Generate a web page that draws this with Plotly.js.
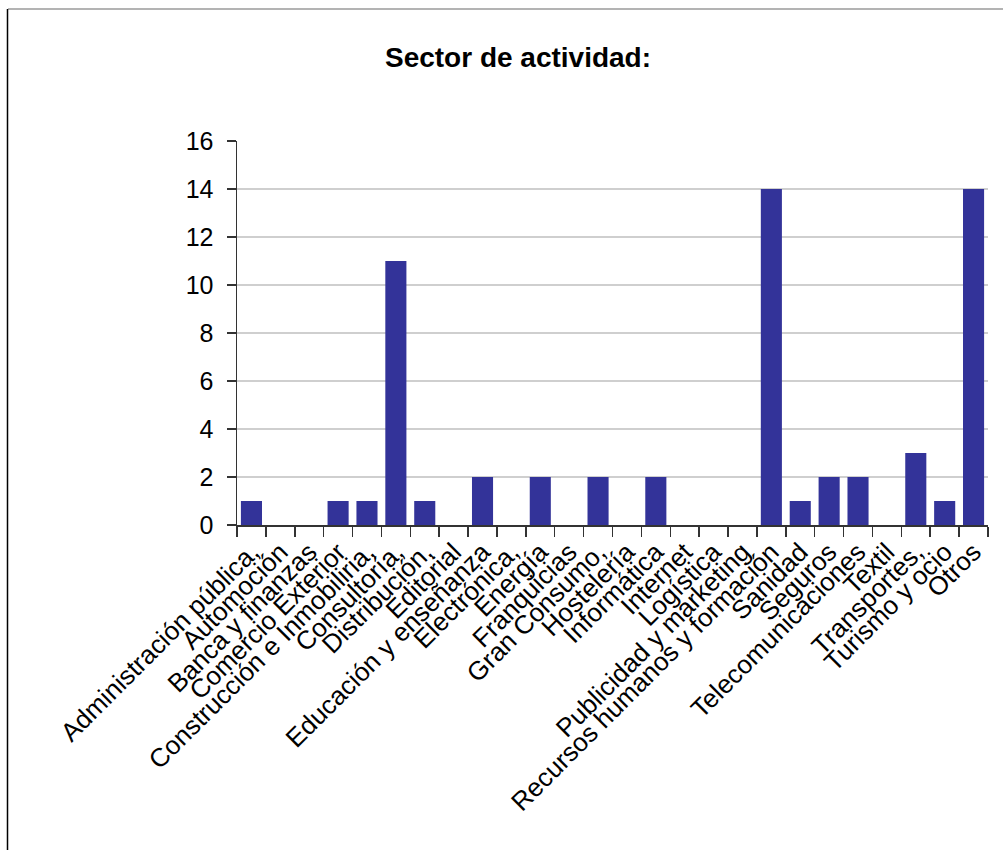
<!DOCTYPE html>
<html>
<head>
<meta charset="utf-8">
<script src="https://cdn.plot.ly/plotly-3.0.1.min.js"></script>
<style>
html,body{margin:0;padding:0;background:#fff;}
#chart{width:1003px;height:850px;}
</style>
</head>
<body>
<div id="chart"></div>
<script>
const categories = [
  "Administración pública,", "Automoción", "Banca y finanzas", "Comercio Exterior",
  "Construcción e Inmobiliria,", "Consultoría,", "Distribución,", "Editorial",
  "Educación y enseñanza", "Electrónica,", "Energía", "Franquicias",
  "Gran Consumo,", "Hostelería", "Informática", "Internet", "Logística",
  "Publicidad y marketing", "Recursos humanos y formación", "Sanidad", "Seguros",
  "Telecomunicaciones", "Textil", "Transportes,", "Turismo y ocio", "Otros"
];
const counts = [1, 0, 0, 1, 1, 11, 1, 0, 2, 0, 2, 0, 2, 0, 2, 0, 0, 0, 14, 1, 2, 2, 0, 3, 1, 14];
const yTicks = [0, 2, 4, 6, 8, 10, 12, 14, 16];
const chartTitle = "Sector de actividad:";

const W = 1003, H = 850;
const M = {l: 237, r: 15, t: 141, b: 325};
const pw = W - M.l - M.r, ph = H - M.t - M.b;
const px = v => (v - M.l) / pw;
const py = v => 1 - (v - M.t) / ph;

const FONT = "Liberation Sans, Arial, sans-serif";

const trace = {
  type: "bar",
  x: categories,
  y: counts,
  marker: {color: "#333399", line: {width: 0}},
  hoverinfo: "x+y"
};

const layout = {
  width: W, height: H,
  margin: M,
  paper_bgcolor: "#ffffff",
  plot_bgcolor: "#ffffff",
  showlegend: false,
  bargap: 0.27,
  font: {family: FONT, size: 25, color: "#000"},
  title: {
    text: "<b>" + chartTitle + "</b>",
    font: {family: FONT, size: 28, color: "#000"},
    x: 518 / W, xref: "container", xanchor: "center",
    y: 1 - 57 / H, yref: "container", yanchor: "middle"
  },
  xaxis: {
    type: "category",
    tickmode: "array",
    tickvals: categories,
    ticktext: categories,
    tickangle: -45,
    tickson: "boundaries",
    ticks: "outside", ticklen: 10, tickwidth: 1.5, tickcolor: "#333",
    showline: true, linecolor: "#333", linewidth: 1.5,
    showgrid: false, zeroline: false,
    tickfont: {family: FONT, size: 26, color: "#000"},
    automargin: false
  },
  yaxis: {
    range: [0, 16],
    tickvals: yTicks,
    ticktext: yTicks.map(String),
    ticks: "outside", ticklen: 9, tickwidth: 1.5, tickcolor: "#333",
    showline: true, linecolor: "#333", linewidth: 1.5,
    showgrid: true, gridcolor: "#cfcfcf", gridwidth: 1.5,
    zeroline: false,
    tickfont: {family: FONT, size: 25, color: "#000"},
    ticklabelstandoff: 8,
    automargin: false
  },
  shapes: [
    {type: "line", xref: "paper", yref: "paper",
     x0: px(8), x1: px(1003), y0: py(9), y1: py(9),
     line: {color: "#9a9a9a", width: 1.5}},
    {type: "line", xref: "paper", yref: "paper",
     x0: px(7.5), x1: px(7.5), y0: py(9), y1: py(850),
     line: {color: "#000000", width: 1.5}}
  ]
};

Plotly.newPlot("chart", [trace], layout, {staticPlot: true, displayModeBar: false});
</script>
</body>
</html>
